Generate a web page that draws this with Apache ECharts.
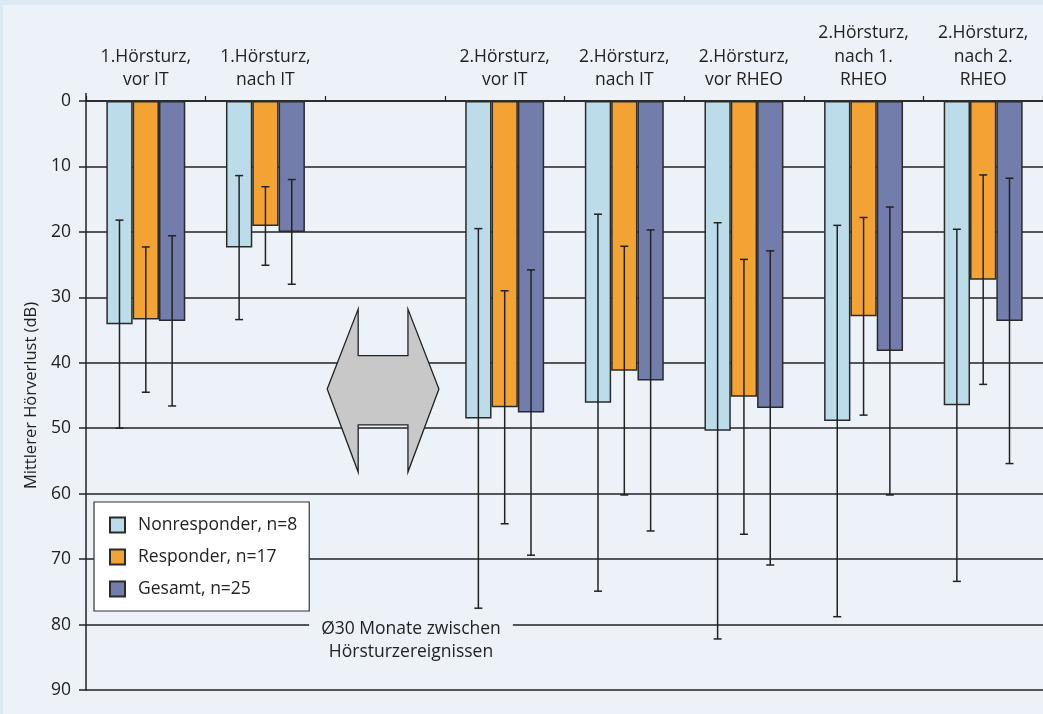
<!DOCTYPE html>
<html>
<head>
<meta charset="utf-8">
<script src="https://cdn.jsdelivr.net/npm/echarts@6/dist/echarts.min.js"></script>
<style>
  html, body { margin: 0; padding: 0; background: #dde9f2; }
  #chart { position: absolute; left: 3px; top: 5px; width: 1040px; height: 709px; }
</style>
</head>
<body>
<div id="chart"></div>
<script>
// Mittlerer Hoerverlust, Mittelwert und Standardabweichung je Zeitpunkt
var categories = [
  '1.Hörsturz,\nvor IT', '1.Hörsturz,\nnach IT', '',
  '2.Hörsturz,\nvor IT', '2.Hörsturz,\nnach IT', '2.Hörsturz,\nvor RHEO',
  '2.Hörsturz,\nnach 1.\nRHEO', '2.Hörsturz,\nnach 2.\nRHEO'
];
var seriesNames = ['Nonresponder, n=8', 'Responder, n=17', 'Gesamt, n=25'];
var nonresponder = [34.1, 22.4, null, 48.5, 46.1, 50.4, 48.9, 46.5];
var nonresponderSD = [15.9, 11.0, null, 29.0, 28.8, 31.8, 29.9, 26.9];
var responder = [33.4, 19.1, null, 46.8, 41.2, 45.2, 32.9, 27.3];
var responderSD = [11.1, 6.0, null, 17.8, 19.0, 21.0, 15.1, 16.0];
var gesamt = [33.6, 20.0, null, 47.6, 42.7, 46.9, 38.2, 33.6];
var gesamtSD = [13.0, 8.0, null, 21.8, 23.0, 24.0, 22.0, 21.8];
// Doppelpfeil (Pause zwischen den Ereignissen): Spitze oben, Kerbe oben, Mitte, Kerbe unten, Spitze unten
var arrowCategory = 2;
var arrowLevels = [31.8, 38.9, 44, 49.5, 56.7];
var noteText = 'Ø30 Monate zwischen\nHörsturzereignissen';

var colors = ['#bddcea', '#f3a333', '#737dab'];
var ink = '#222';
var font = '"Open Sans", "Noto Sans", sans-serif';
var catGap = 0.34;

var chart = echarts.init(document.getElementById('chart'));

function barData(vals) {
  return vals.map(function (v) { return v == null ? '-' : v; });
}
function errData(vals, sds) {
  var out = [];
  vals.forEach(function (v, i) {
    if (v != null) out.push([i, v, sds[i]]);
  });
  return out;
}
function errorRender(slot) {
  return function (params, api) {
    var c = api.value(0), m = api.value(1), sd = api.value(2);
    var bw = api.size([1, 0])[0] * (1 - catGap) / 3;
    var top = api.coord([c, m - sd]);
    var bot = api.coord([c, m + sd]);
    var x = top[0] + slot * bw;
    var st = { stroke: ink, lineWidth: 1.5 };
    return {
      type: 'group',
      children: [
        { type: 'line', shape: { x1: x, y1: top[1], x2: x, y2: bot[1] }, style: st },
        { type: 'line', shape: { x1: x - 4, y1: top[1], x2: x + 4, y2: top[1] }, style: st },
        { type: 'line', shape: { x1: x - 4, y1: bot[1], x2: x + 4, y2: bot[1] }, style: st }
      ]
    };
  };
}
function arrowRender(params, api) {
  var c = api.value(0);
  var w = api.size([1, 0])[0];
  var cx = api.coord([c, 0])[0] - 2;
  var y = arrowLevels.map(function (l) { return api.coord([c, l])[1]; });
  var a = 0.467 * w, b = 0.208 * w;
  return {
    type: 'polygon',
    shape: {
      points: [
        [cx - a, y[2]], [cx - b, y[0]], [cx - b, y[1]], [cx + b, y[1]], [cx + b, y[0]],
        [cx + a, y[2]], [cx + b, y[4]], [cx + b, y[3]], [cx - b, y[3]], [cx - b, y[4]]
      ]
    },
    style: { fill: '#c8c8c8', stroke: ink, lineWidth: 1.3 }
  };
}

var barStyle = function (i) {
  return { color: colors[i], borderColor: '#2a2a2a', borderWidth: 1.5 };
};

var option = {
  backgroundColor: '#edf2f9',
  animation: false,
  textStyle: { fontFamily: font },
  grid: { left: 83, top: 96, width: 960, height: 589 },
  legend: {
    orient: 'vertical',
    left: 91,
    top: 497,
    data: seriesNames,
    icon: 'rect',
    itemWidth: 15,
    itemHeight: 15,
    itemGap: 14,
    padding: [14, 12, 13, 15],
    backgroundColor: '#ffffff',
    borderColor: '#333',
    borderWidth: 1.2,
    borderRadius: 0,
    textStyle: { fontSize: 17.5, color: ink, padding: [0, 0, 0, 8] }
  },
  xAxis: {
    type: 'category',
    position: 'top',
    data: categories,
    axisLine: { show: true, lineStyle: { color: ink, width: 1.5 } },
    axisTick: { show: true, length: 5, lineStyle: { color: ink, width: 1.2 } },
    axisLabel: { fontSize: 17.5, color: ink, lineHeight: 23.5, margin: 9, interval: 0 },
    splitLine: { show: false }
  },
  yAxis: {
    type: 'value',
    inverse: true,
    min: 0,
    max: 90,
    interval: 10,
    name: 'Mittlerer Hörverlust (dB)',
    nameLocation: 'middle',
    nameRotate: 90,
    nameGap: 46,
    nameTextStyle: { fontSize: 16.5, color: ink },
    axisLine: { show: true, lineStyle: { color: ink, width: 1.5 } },
    axisTick: { show: true, length: 7, lineStyle: { color: ink, width: 1.5 } },
    axisLabel: { fontSize: 17.5, color: ink, margin: 15 },
    splitLine: { show: true, lineStyle: { color: ink, width: 1.5 } }
  },
  graphic: [{
    type: 'line',
    z: 100,
    shape: { x1: 83, y1: 88, x2: 83, y2: 96 },
    style: { stroke: ink, lineWidth: 1.5 }
  }, {
    type: 'text',
    z: 100,
    x: 408,
    y: 611,
    style: {
      text: noteText,
      font: '17.5px ' + font,
      fill: ink,
      align: 'center',
      verticalAlign: 'top',
      lineHeight: 23,
      backgroundColor: '#edf2f9',
      padding: [2, 12, 2, 12]
    }
  }],
  series: [
    { name: seriesNames[0], type: 'bar', data: barData(nonresponder), barGap: 0, barCategoryGap: '34%', itemStyle: barStyle(0) },
    { name: seriesNames[1], type: 'bar', data: barData(responder), barGap: 0, barCategoryGap: '34%', itemStyle: barStyle(1) },
    { name: seriesNames[2], type: 'bar', data: barData(gesamt), barGap: 0, barCategoryGap: '34%', itemStyle: barStyle(2) },
    { type: 'custom', renderItem: errorRender(-1), data: errData(nonresponder, nonresponderSD), z: 5 },
    { type: 'custom', renderItem: errorRender(0), data: errData(responder, responderSD), z: 5 },
    { type: 'custom', renderItem: errorRender(1), data: errData(gesamt, gesamtSD), z: 5 },
    { type: 'custom', renderItem: arrowRender, data: [[arrowCategory, arrowLevels[2]]], z: 4 }
  ]
};
chart.setOption(option);
</script>
</body>
</html>
